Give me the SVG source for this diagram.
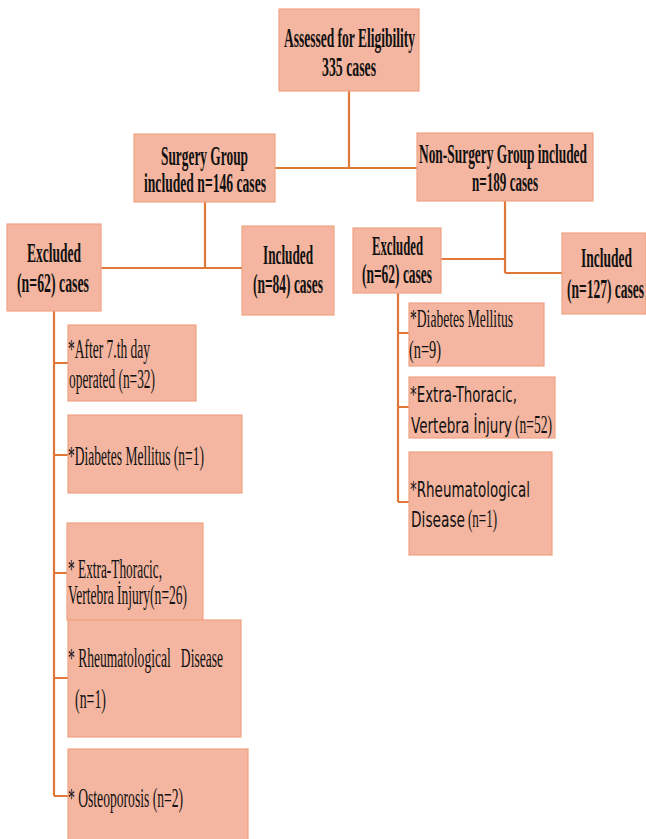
<svg xmlns="http://www.w3.org/2000/svg" width="646" height="839" viewBox="0 0 646 839">
<style>
.box{fill:#F4B6A0;stroke:#F0A283;stroke-width:1.2}
.ln{fill:none;stroke:#E0783A;stroke-width:2.2}
.h{font-family:"Liberation Serif","Times New Roman",serif;font-weight:bold;font-size:27px;fill:#111}
.t{font-family:"Liberation Serif","Times New Roman",serif;font-size:28px;fill:#111}
.tr{font-family:"Liberation Serif","Times New Roman",serif;font-size:25px;fill:#111}
.s{font-family:"DejaVu Sans","Liberation Sans",sans-serif;font-size:22px;fill:#111}
</style>
<rect width="646" height="839" fill="#fff"/>
<g id="connectors">
<path class="ln" d="M349 91V168M275 168H417"/>
<path class="ln" d="M205 202V268M101 268H242"/>
<path class="ln" d="M505 201V273M441 259H505M505 273H562"/>
<path class="ln" d="M54 311V796M54 363H68M54 455H68M54 573H68M54 678H68M54 796H68"/>
<path class="ln" d="M398 293V502M398 333H409M398 407H409M398 502H409"/>
</g>
<g id="assessed">
<rect class="box" x="279" y="9" width="140" height="82"/>
<text class="h" x="284" y="47" textLength="131" lengthAdjust="spacingAndGlyphs">Assessed for Eligibility</text>
<text class="h" x="322" y="76" textLength="54" lengthAdjust="spacingAndGlyphs">335 cases</text>
</g>
<g id="surgery">
<rect class="box" x="134" y="134" width="141" height="68"/>
<text class="h" x="161" y="165" textLength="87" lengthAdjust="spacingAndGlyphs">Surgery Group</text>
<text class="h" x="144" y="192" textLength="122" lengthAdjust="spacingAndGlyphs">included n=146 cases</text>
</g>
<g id="nonsurgery">
<rect class="box" x="417" y="133" width="176" height="68"/>
<text class="h" x="419" y="163" textLength="168" lengthAdjust="spacingAndGlyphs">Non-Surgery Group included</text>
<text class="h" x="472" y="191" textLength="66" lengthAdjust="spacingAndGlyphs">n=189 cases</text>
</g>
<g id="excluded-left">
<rect class="box" x="7" y="224" width="94" height="87"/>
<text class="h" x="27" y="262" textLength="54" lengthAdjust="spacingAndGlyphs">Excluded</text>
<text class="h" x="17" y="292" textLength="72" lengthAdjust="spacingAndGlyphs">(n=62) cases</text>
</g>
<g id="included-left">
<rect class="box" x="242" y="226" width="92" height="89"/>
<text class="h" x="263" y="264" textLength="50" lengthAdjust="spacingAndGlyphs">Included</text>
<text class="h" x="253" y="293" textLength="70" lengthAdjust="spacingAndGlyphs">(n=84) cases</text>
</g>
<g id="excluded-right">
<rect class="box" x="353" y="228" width="88" height="65"/>
<text class="h" x="372" y="255" textLength="51" lengthAdjust="spacingAndGlyphs">Excluded</text>
<text class="h" x="362" y="283" textLength="70" lengthAdjust="spacingAndGlyphs">(n=62) cases</text>
</g>
<g id="included-right">
<rect class="box" x="562" y="233" width="84" height="81"/>
<text class="h" x="581" y="267" textLength="51" lengthAdjust="spacingAndGlyphs">Included</text>
<text class="h" x="567" y="298" textLength="77" lengthAdjust="spacingAndGlyphs">(n=127) cases</text>
</g>
<g id="left-after7">
<rect class="box" x="68" y="325" width="128" height="76"/>
<text class="t" x="68" y="358" textLength="82" lengthAdjust="spacingAndGlyphs">*After 7.th day</text>
<text class="t" x="69" y="388" textLength="86" lengthAdjust="spacingAndGlyphs">operated (n=32)</text>
</g>
<g id="left-diabetes">
<rect class="box" x="68" y="415" width="174" height="78"/>
<text class="t" x="68" y="465" textLength="136" lengthAdjust="spacingAndGlyphs">*Diabetes Mellitus (n=1)</text>
</g>
<g id="left-extrathoracic">
<rect class="box" x="67" y="523" width="136" height="97"/>
<text class="t" x="68" y="578" textLength="94" lengthAdjust="spacingAndGlyphs">* Extra-Thoracic,</text>
<text class="t" x="68" y="604" textLength="119" lengthAdjust="spacingAndGlyphs">Vertebra İnjury(n=26)</text>
</g>
<g id="left-rheum">
<rect class="box" x="68" y="620" width="173" height="117"/>
<text class="t" x="68" y="667" textLength="155" lengthAdjust="spacingAndGlyphs" xml:space="preserve" style="white-space:pre">* Rheumatological   Disease</text>
<text class="t" x="75" y="708" textLength="31" lengthAdjust="spacingAndGlyphs">(n=1)</text>
</g>
<g id="left-osteo">
<rect class="box" x="68" y="749" width="180" height="92"/>
<text class="t" x="68" y="807" textLength="115" lengthAdjust="spacingAndGlyphs">* Osteoporosis (n=2)</text>
</g>
<g id="right-diabetes">
<rect class="box" x="409" y="303" width="135" height="63"/>
<text class="tr" x="410" y="327" textLength="103" lengthAdjust="spacingAndGlyphs">*Diabetes Mellitus</text>
<text class="tr" x="409" y="358" textLength="32" lengthAdjust="spacingAndGlyphs">(n=9)</text>
</g>
<g id="right-extrathoracic">
<rect class="box" x="409" y="377" width="146" height="61"/>
<text class="s" x="410" y="402" textLength="107" lengthAdjust="spacingAndGlyphs">*Extra-Thoracic,</text>
<text class="s" x="411" y="433" textLength="101" lengthAdjust="spacingAndGlyphs">Vertebra İnjury</text>
<text class="tr" x="515" y="433" font-size="21" textLength="37" lengthAdjust="spacingAndGlyphs">(n=52)</text>
</g>
<g id="right-rheum">
<rect class="box" x="409" y="452" width="143" height="103"/>
<text class="s" x="410" y="497" textLength="120" lengthAdjust="spacingAndGlyphs">*Rheumatological</text>
<text class="s" x="411" y="527" textLength="54" lengthAdjust="spacingAndGlyphs">Disease</text>
<text class="tr" x="468" y="527" font-size="21" textLength="29" lengthAdjust="spacingAndGlyphs">(n=1)</text>
</g>
</svg>
